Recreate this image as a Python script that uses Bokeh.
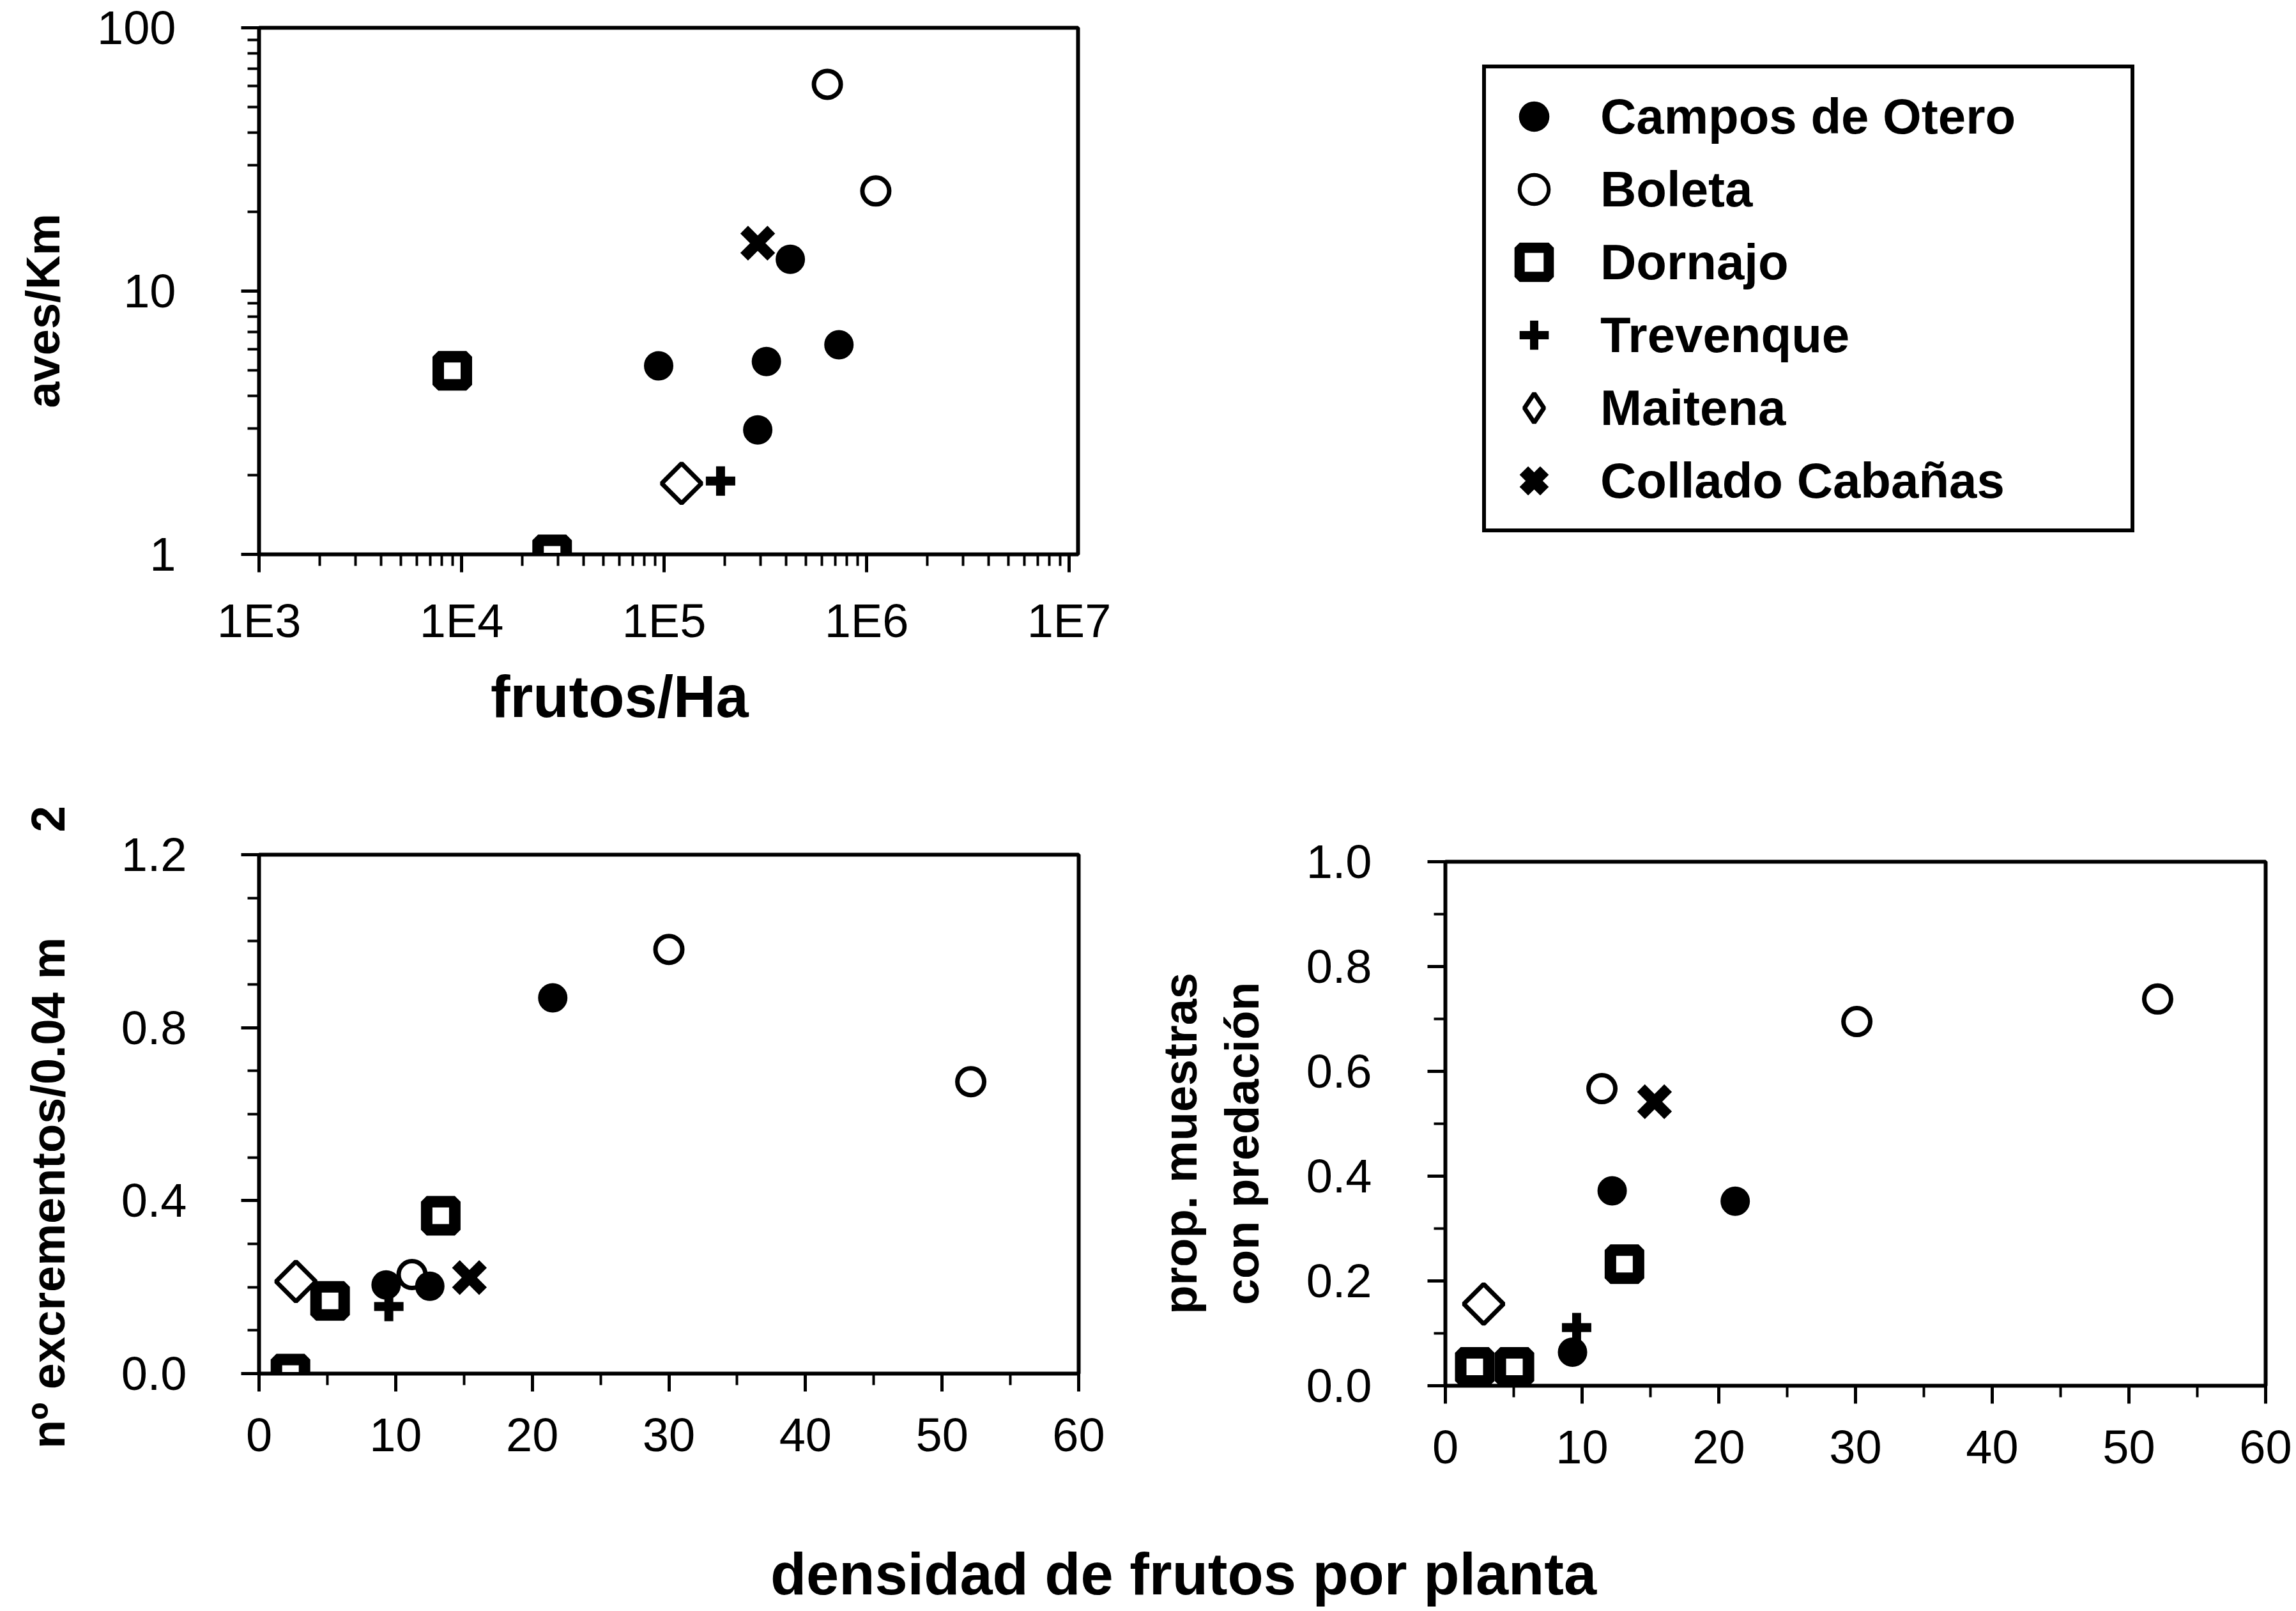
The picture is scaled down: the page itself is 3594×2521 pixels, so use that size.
from math import pi
from bokeh.plotting import figure
from bokeh.models import (Range1d, FixedTicker, CustomJSTickFormatter, Legend,
                          LegendItem, LinearAxis)
from bokeh.layouts import column, row
from bokeh.embed import file_html
from bokeh.resources import INLINE

FONT = "Liberation Sans"
NB = "\u00a0"

# ---------------- data ----------------
sites = ["Campos de Otero", "Boleta", "Dornajo", "Trevenque", "Maitena", "Collado Cabañas"]

# Panel A: frutos/Ha (x, log) vs aves/Km (y, log)
a_campos_x = [9.4e4, 2.9e5, 3.2e5, 4.2e5, 7.3e5]
a_campos_y = [5.2, 2.97, 5.4, 13.2, 6.25]
a_boleta_x = [6.4e5, 1.11e6]
a_boleta_y = [61, 24]
a_dornajo_x = [9.0e3, 2.8e4]
a_dornajo_y = [4.98, 1.0]
a_trevenque_x = [1.9e5]
a_trevenque_y = [1.9]
a_maitena_x = [1.22e5]
a_maitena_y = [1.86]
a_collado_x = [2.9e5]
a_collado_y = [15.2]

# Panel B: densidad de frutos por planta vs nº excrementos/0.04 m2
b_campos_x = [9.3, 12.5, 21.5]
b_campos_y = [0.205, 0.202, 0.869]
b_boleta_x = [11.2, 30.0, 52.1]
b_boleta_y = [0.229, 0.981, 0.675]
b_dornajo_x = [2.3, 5.2, 13.3]
b_dornajo_y = [0.0, 0.168, 0.365]
b_trevenque_x = [9.5]
b_trevenque_y = [0.155]
b_maitena_x = [2.7]
b_maitena_y = [0.213]
b_collado_x = [15.4]
b_collado_y = [0.222]

# Panel C: densidad de frutos por planta vs prop. muestras con predación
c_campos_x = [9.3, 12.2, 21.2]
c_campos_y = [0.064, 0.372, 0.352]
c_boleta_x = [11.45, 30.1, 52.1]
c_boleta_y = [0.567, 0.695, 0.738]
c_dornajo_x = [2.15, 5.05, 13.1]
c_dornajo_y = [0.036, 0.036, 0.232]
c_trevenque_x = [9.6]
c_trevenque_y = [0.111]
c_maitena_x = [2.8]
c_maitena_y = [0.156]
c_collado_x = [15.3]
c_collado_y = [0.542]

# ticks
a_xticks = [1e3, 1e4, 1e5, 1e6, 1e7]
a_xminor = [k * 10 ** e for e in range(3, 7) for k in range(2, 10)]
a_yticks = [1, 10, 100]
a_yminor = [k * 10 ** e for e in range(0, 2) for k in range(2, 10)]
dens_xticks = [0, 10, 20, 30, 40, 50, 60]
dens_xminor = [5, 15, 25, 35, 45, 55]
b_yticks = [0.0, 0.4, 0.8, 1.2]
b_yminor = [0.1, 0.2, 0.3, 0.5, 0.6, 0.7, 0.9, 1.0, 1.1]
c_yticks = [0.0, 0.2, 0.4, 0.6, 0.8, 1.0]
c_yminor = [0.1, 0.3, 0.5, 0.7, 0.9]

# ---------------- styles ----------------
STYLES = {
    "Campos de Otero": dict(marker="circle", size=38, fill_color="black", line_color="black", line_width=8),
    "Boleta": dict(marker="circle", size=42, fill_color="white", line_color="black", line_width=7),
    "Dornajo": dict(marker="square", size=44, fill_color="white", line_color="black", line_width=18),
    "Trevenque": dict(marker="cross", size=46, fill_color="black", line_color="black", line_width=14),
    "Maitena": dict(marker="square", size=44, angle=pi / 4, fill_color="white", line_color="black", line_width=7),
    "Collado Cabañas": dict(marker="x", size=60, fill_color="black", line_color="black", line_width=17),
}
# legend keys (the legend draws every key at one common size and without rotation)
LEG_STYLES = {
    "Campos de Otero": dict(marker="circle", fill_color="black", line_color="black", line_width=2),
    "Boleta": dict(marker="circle", fill_color="white", line_color="black", line_width=6),
    "Dornajo": dict(marker="square", fill_color="white", line_color="black", line_width=16),
    "Trevenque": dict(marker="cross", fill_color="black", line_color="black", line_width=13),
    "Maitena": dict(marker="diamond", fill_color="white", line_color="black", line_width=7),
    "Collado Cabañas": dict(marker="x", fill_color="black", line_color="black", line_width=19),
}


def style_axis(ax, standoff):
    ax.axis_line_width = 5
    ax.axis_line_color = "black"
    ax.major_tick_line_width = 5
    ax.major_tick_line_color = "black"
    ax.minor_tick_line_width = 4
    ax.minor_tick_line_color = "black"
    ax.major_tick_out = 28
    ax.major_tick_in = 0
    ax.minor_tick_out = 18
    ax.minor_tick_in = 0
    ax.major_label_text_font = FONT
    ax.major_label_text_font_size = "74px"
    ax.major_label_text_color = "black"
    ax.major_label_standoff = standoff
    ax.axis_label_text_font = FONT
    ax.axis_label_text_font_style = "bold"
    ax.axis_label_text_color = "black"


def style_plot(p):
    p.xgrid.visible = False
    p.ygrid.visible = False
    p.outline_line_color = "black"
    p.outline_line_width = 6
    p.background_fill_color = "white"
    p.border_fill_color = "white"


def add_series(p, series):
    for name, xs, ys in series:
        p.scatter(xs, ys, **STYLES[name])


# ---------------- panel A ----------------
p1 = figure(width=1760, height=1200, x_axis_type="log", y_axis_type="log",
            x_range=Range1d(1e3, 10 ** 7.044), y_range=Range1d(1, 100),
            output_backend="svg", toolbar_location=None,
            min_border_left=405, min_border_right=1760 - 1687,
            min_border_top=43, min_border_bottom=1200 - 867)
p1.xaxis[0].ticker = FixedTicker(ticks=a_xticks, minor_ticks=a_xminor)
p1.yaxis[0].ticker = FixedTicker(ticks=a_yticks, minor_ticks=a_yminor)
p1.xaxis[0].formatter = CustomJSTickFormatter(code="return '1E' + Math.round(Math.log10(tick));")
p1.yaxis[0].formatter = CustomJSTickFormatter(code="return Math.round(tick).toString();")
style_axis(p1.xaxis[0], 34)
style_axis(p1.yaxis[0], 102)
style_plot(p1)
p1.yaxis[0].axis_label = "aves/Km" + NB * 3
p1.yaxis[0].axis_label_text_font_size = "74px"
p1.yaxis[0].axis_label_standoff = 40
p1.xaxis[0].axis_label = "frutos/Ha" + NB * 6
p1.xaxis[0].axis_label_text_font_size = "92px"
p1.xaxis[0].axis_label_standoff = 23
A_SERIES = [
    ("Campos de Otero", a_campos_x, a_campos_y),
    ("Boleta", a_boleta_x, a_boleta_y),
    ("Dornajo", a_dornajo_x, a_dornajo_y),
    ("Trevenque", a_trevenque_x, a_trevenque_y),
    ("Maitena", a_maitena_x, a_maitena_y),
    ("Collado Cabañas", a_collado_x, a_collado_y),
]
add_series(p1, [A_SERIES[i] for i in (2, 3, 4, 0, 1, 5)])

# ---------------- legend (own canvas; frame aligned with panel A) ----------------
pleg = figure(width=1834, height=1200, x_axis_type=None, y_axis_type=None,
              x_range=Range1d(0, 1), y_range=Range1d(0, 1),
              output_backend="svg", toolbar_location=None,
              min_border_left=2262 - 1760, min_border_right=0,
              min_border_top=43, min_border_bottom=1200 - 867)
pleg.outline_line_color = None
pleg.background_fill_color = "white"
pleg.border_fill_color = "white"
leg_items = []
for name, xs, ys in A_SERIES:
    # same panel-A values; they fall outside this canvas' unit ranges, only the legend keys show
    r = pleg.scatter(xs, ys, size=40, **LEG_STYLES[name])
    leg_items.append(LegendItem(label=name, renderers=[r]))
legend = Legend(items=leg_items, location="top_left",
                glyph_width=114, glyph_height=114, label_height=114,
                label_width=812, label_standoff=47, spacing=0, padding=18, margin=58,
                border_line_color="black", border_line_width=6, border_line_alpha=1.0,
                background_fill_color="white", background_fill_alpha=1.0,
                label_text_font=FONT, label_text_font_style="bold",
                label_text_font_size="78px", label_text_color="black")
pleg.add_layout(legend)

# ---------------- panel B ----------------
p2 = figure(width=1760, height=1150, x_range=Range1d(0, 60), y_range=Range1d(0, 1.2),
            output_backend="svg", toolbar_location=None,
            min_border_left=405, min_border_right=1760 - 1688,
            min_border_top=1337 - 1200, min_border_bottom=2350 - 2149)
p2.xaxis[0].ticker = FixedTicker(ticks=dens_xticks, minor_ticks=dens_xminor)
p2.yaxis[0].ticker = FixedTicker(ticks=b_yticks, minor_ticks=b_yminor)
p2.xaxis[0].formatter = CustomJSTickFormatter(code="return Math.round(tick).toString();")
p2.yaxis[0].formatter = CustomJSTickFormatter(code="return tick.toFixed(1);")
style_axis(p2.xaxis[0], 42)
style_axis(p2.yaxis[0], 85)
style_plot(p2)
p2.yaxis[0].axis_label = "nº excrementos/0.04 m" + NB * 8 + "2" + NB * 2
p2.yaxis[0].axis_label_text_font_size = "74px"
p2.yaxis[0].axis_label_standoff = 70
add_series(p2, [
    ("Dornajo", b_dornajo_x, b_dornajo_y),
    ("Trevenque", b_trevenque_x, b_trevenque_y),
    ("Maitena", b_maitena_x, b_maitena_y),
    ("Boleta", b_boleta_x, b_boleta_y),
    ("Campos de Otero", b_campos_x, b_campos_y),
    ("Collado Cabañas", b_collado_x, b_collado_y),
])

# ---------------- panel C ----------------
p3 = figure(width=1834, height=1150, x_range=Range1d(0, 60), y_range=Range1d(0, 1.0),
            output_backend="svg", toolbar_location=None,
            min_border_left=2262 - 1760, min_border_right=3594 - 3546,
            min_border_top=1348 - 1200, min_border_bottom=2350 - 2168)
p3.xaxis[0].ticker = FixedTicker(ticks=dens_xticks, minor_ticks=dens_xminor)
p3.yaxis[0].ticker = FixedTicker(ticks=c_yticks, minor_ticks=c_yminor)
p3.xaxis[0].formatter = CustomJSTickFormatter(code="return Math.round(tick).toString();")
p3.yaxis[0].formatter = CustomJSTickFormatter(code="return tick.toFixed(1);")
style_axis(p3.xaxis[0], 42)
style_axis(p3.yaxis[0], 87)
style_plot(p3)
p3.yaxis[0].axis_label = "con predación" + NB * 3
p3.yaxis[0].axis_label_text_font_size = "74px"
p3.yaxis[0].axis_label_standoff = 56
outer = LinearAxis(ticker=FixedTicker(ticks=[]), axis_label="prop. muestras" + NB * 3,
                   axis_line_color=None, major_tick_out=0, minor_tick_out=0,
                   major_tick_in=0, minor_tick_in=0, major_label_standoff=0,
                   axis_label_standoff=11, axis_label_text_font=FONT,
                   axis_label_text_font_style="bold", axis_label_text_font_size="74px",
                   axis_label_text_color="black")
p3.add_layout(outer, "left")
add_series(p3, [
    ("Dornajo", c_dornajo_x, c_dornajo_y),
    ("Trevenque", c_trevenque_x, c_trevenque_y),
    ("Maitena", c_maitena_x, c_maitena_y),
    ("Campos de Otero", c_campos_x, c_campos_y),
    ("Boleta", c_boleta_x, c_boleta_y),
    ("Collado Cabañas", c_collado_x, c_collado_y),
])

# ---------------- common x title (axis label of a strip) ----------------
pt = figure(width=3594, height=171, y_axis_type=None,
            x_range=Range1d(0, 1), y_range=Range1d(0, 1),
            output_backend="svg", toolbar_location=None,
            min_border_left=110, min_border_right=0, min_border_top=0, min_border_bottom=130)
pt.outline_line_color = None
pt.xgrid.visible = False
ax = pt.xaxis[0]
ax.ticker = FixedTicker(ticks=[])
ax.axis_line_color = None
ax.major_tick_out = 0
ax.minor_tick_out = 0
ax.major_tick_in = 0
ax.minor_tick_in = 0
ax.major_label_standoff = 0
ax.axis_label = "densidad de frutos por planta"
ax.axis_label_standoff = 20
ax.axis_label_text_font = FONT
ax.axis_label_text_font_style = "bold"
ax.axis_label_text_font_size = "92px"
ax.axis_label_text_color = "black"

layout = column(row(column(p1), column(pleg)), row(column(p2), column(p3)), pt)
open("out.html", "w").write(file_html(layout, INLINE))
